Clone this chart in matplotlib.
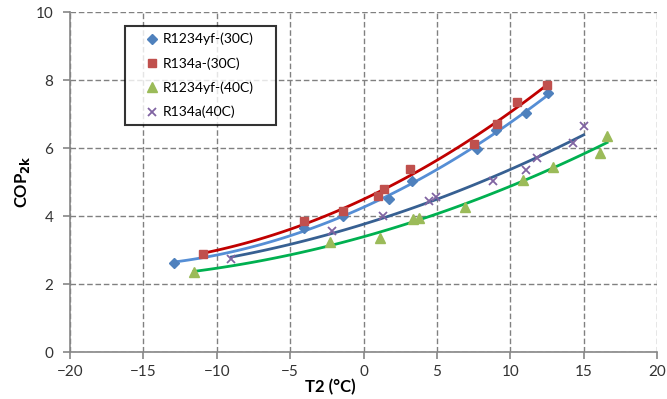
import numpy as np
import matplotlib
matplotlib.use("Agg")
import matplotlib.pyplot as plt

plt.rcParams["font.family"] = ["Lato", "DejaVu Sans"]

# R1234yf-(30C)
x_yf30 = [-12.9, -4.05, -1.4, 1.75, 3.3, 7.75, 9.0, 11.05, 12.6]
y_yf30 = [2.62, 3.65, 4.0, 4.5, 5.03, 5.97, 6.53, 7.03, 7.62]
# R134a-(30C)
x_a30 = [-10.95, -4.05, -1.4, 1.0, 1.4, 3.15, 7.5, 9.1, 10.45, 12.5]
y_a30 = [2.88, 3.85, 4.15, 4.6, 4.8, 5.38, 6.12, 6.7, 7.35, 7.85]
# R1234yf-(40C)
x_yf40 = [-11.55, -2.3, 1.1, 3.4, 3.8, 6.9, 10.85, 12.9, 16.1, 16.6]
y_yf40 = [2.35, 3.24, 3.36, 3.92, 3.94, 4.26, 5.05, 5.43, 5.85, 6.35]
# R134a(40C)
x_a40 = [-9.0, -2.15, 1.3, 4.45, 4.95, 8.8, 11.1, 11.8, 14.3, 15.0]
y_a40 = [2.73, 3.56, 4.0, 4.44, 4.56, 5.03, 5.35, 5.7, 6.15, 6.65]

series = [
    (x_yf30, y_yf30, "R1234yf-(30C)", "D", "#4F81BD", "#558ED5", 5),
    (x_a30, y_a30, "R134a-(30C)", "s", "#C0504D", "#C00000", 6),
    (x_yf40, y_yf40, "R1234yf-(40C)", "^", "#9BBB59", "#00B050", 6.5),
    (x_a40, y_a40, "R134a(40C)", "x", "#8064A2", "#376092", 6),
]

fig = plt.figure(figsize=(6.67, 3.99), dpi=100)
ax = fig.add_axes([70 / 667, 47 / 399, 587 / 667, 340 / 399])

for xs, ys, lab, mk, mc, lc, ms in series:
    if mk == "x":
        ax.plot(xs, ys, linestyle="none", marker=mk, color=mc, markersize=ms,
                markeredgewidth=1.3, label=lab, zorder=3)
    else:
        ax.plot(xs, ys, linestyle="none", marker=mk, color=mc, markersize=ms,
                markeredgecolor=mc, label=lab, zorder=3)
    # polynomial trendline, like Excel
    c = np.polyfit(xs, ys, 2)
    xx = np.linspace(min(xs), max(xs), 100)
    ax.plot(xx, np.polyval(c, xx), color=lc, linewidth=2, zorder=2)

ax.set_xlim(-20, 20)
ax.set_ylim(0, 10)
ax.set_xticks(range(-20, 21, 5))
ax.set_yticks(range(0, 11, 2))
ax.grid(True, linestyle=(0, (4, 2)), color="#808080", linewidth=1)
ax.set_axisbelow(True)
for s in ["top", "right"]:
    ax.spines[s].set_visible(False)
for s in ["left", "bottom"]:
    ax.spines[s].set_color("#868686")
    ax.spines[s].set_linewidth(1.2)
ax.tick_params(colors="#868686", labelcolor="#333333", labelsize=11, length=5,
               width=1.2)
ax.tick_params(axis="x", pad=4)
ax.tick_params(axis="y", pad=7)

ax.set_xlabel("T2 (°C)", fontsize=12, fontweight="bold")
ax.xaxis.set_label_coords(0.443, -0.079)
ax.set_ylabel("COP$_{\\mathbf{2k}}$", fontsize=12, fontweight="bold")
ax.yaxis.set_label_coords(-0.065, 0.5)

leg = ax.legend(loc="upper left", bbox_to_anchor=(0.094, 0.959, 0.257, 0.0),
                mode="expand", fontsize=10, frameon=True, fancybox=False,
                borderpad=0.5, labelspacing=0.85, handletextpad=-0.6,
                handlelength=2.8, borderaxespad=0)
leg.get_frame().set_edgecolor("black")
leg.get_frame().set_linewidth(1.5)

fig.savefig("out.png", dpi=100)
